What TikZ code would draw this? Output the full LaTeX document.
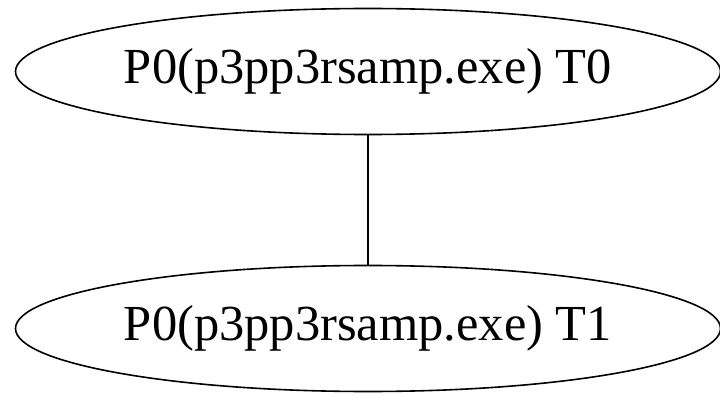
\documentclass[tikz,border=0pt]{standalone}
\usepackage{fontspec}
\setmainfont{Liberation Serif}
\usetikzlibrary{shapes.geometric}
\begin{document}
\begin{tikzpicture}[x=1pt,y=1pt,
  proc/.style={draw, line width=1.6pt, ellipse, minimum width=705pt, minimum height=126pt, inner sep=0pt, font=\fontsize{50.5}{58}\selectfont},
  edge/.style={draw, line width=1.6pt}]
\useasboundingbox (0,0) rectangle (720,394);
\node[proc] (t0) at (368,322.5) {P0(p3pp3rsamp.exe) T0};
\node[proc] (t1) at (368,65.5) {P0(p3pp3rsamp.exe) T1};
\draw[edge] (t0) -- (t1);
\end{tikzpicture}
\end{document}
